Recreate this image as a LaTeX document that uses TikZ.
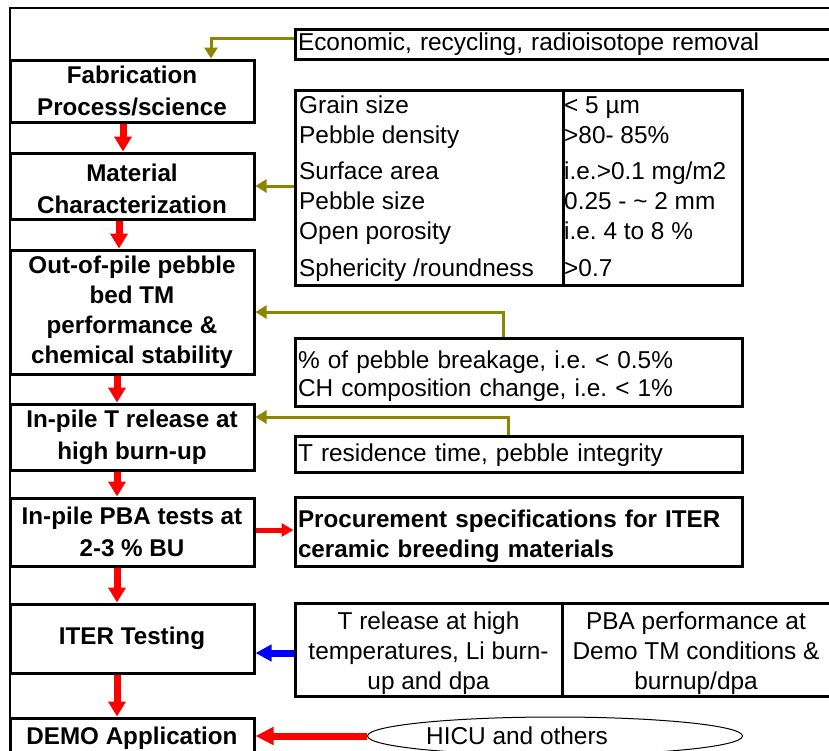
\documentclass[tikz,border=0pt]{standalone}
\usepackage{fontspec}
\setmainfont{Liberation Sans}
\usetikzlibrary{arrows.meta,shapes.geometric}
\frenchspacing
\tikzset{
  lbox/.style={draw, line width=3pt, minimum width=244pt, align=center, inner sep=0pt,
    font=\fontsize{24.2}{31.7}\selectfont\bfseries},
  rbox/.style={draw, line width=3pt, inner sep=0pt, inner xsep=3pt, align=left,
    font=\fontsize{24.4}{28.5}\selectfont},
  emptybox/.style={draw, line width=3pt, inner sep=0pt},
  txt/.style={inner sep=0pt, font=\fontsize{24.4}{30}\selectfont},
  redv/.style={draw=red, line width=7pt, -{Triangle[width=17pt,length=15pt]}},
  redh/.style={draw=red, line width=5pt, -{Triangle[width=13pt,length=12pt]}},
  redhicu/.style={draw=red, line width=7pt, -{Triangle[width=17pt,length=18pt]}},
  bluearr/.style={draw=blue, line width=7pt, -{Triangle[width=16pt,length=16pt]}},
  olivearr/.style={draw=olive, line width=3pt, -{Triangle[width=13pt,length=11pt]}},
}
\begin{document}
\frenchspacing
\begin{tikzpicture}[x=1pt,y=-1pt]
\useasboundingbox (0,0) rectangle (829,750);
\clip (0,0) rectangle (829,750);
\fill[white] (0,0) rectangle (829,750);
% outer frame
\draw[line width=2pt] (10,780) -- (10,8) -- (860,8);

% left column
\node[lbox, minimum height=62pt] (fab) at (132,91) {Fabrication\\Process/science};
\node[lbox, minimum height=66pt] (mat) at (132,186) {\rule{0pt}{23pt}Material\\Characterization};
\node[lbox, minimum height=124pt, font=\fontsize{24.2}{30}\selectfont\bfseries] (oop) at (132,312)
  {Out-of-pile pebble\\bed TM\\performance \&\\chemical stability};
\node[lbox, minimum height=66pt] (int) at (132,437) {In-pile T release at\\high burn-up};
\node[lbox, minimum height=68pt] (pba) at (132,532) {In-pile PBA tests at\\2-3 \% BU};
\node[lbox, minimum height=69pt] (iter) at (132,638.5) {ITER Testing};
\node[lbox, minimum height=39.5pt] (demo) at (132,737.75) {DEMO Application};

% right column
\node[rbox, minimum width=545pt, text width=539pt, minimum height=30pt] (econ) at (567.5,44)
  {Economic, recycling, radioisotope removal};

\node[emptybox, minimum width=447pt, minimum height=195pt] (tab) at (518.5,187.5) {};
\draw[line width=3pt] (tab.north -| 563,0) -- (tab.south -| 563,0);
\node[txt, anchor=base west] (g1) at (299,113.3) {Grain size};
\node[txt, anchor=base west] (g2) at (299,143.3) {Pebble density};
\node[txt, anchor=base west] (g3) at (299,179.3) {Surface area};
\node[txt, anchor=base west] (g4) at (299,209) {Pebble size};
\node[txt, anchor=base west] (g5) at (299,239) {Open porosity};
\node[txt, anchor=base west] (g6) at (299,276) {Sphericity /roundness};
\node[txt, anchor=base west] (v1) at (564,113.3) {< 5 µm};
\node[txt, anchor=base west] (v2) at (564,143.3) {>80- 85\%};
\node[txt, anchor=base west] (v3) at (564,179.3) {i.e.>0.1 mg/m2};
\node[txt, anchor=base west] (v4) at (564,209) {0.25 - \textasciitilde{} 2 mm};
\node[txt, anchor=base west] (v5) at (564,239) {i.e.\ 4 to 8 \%};
\node[txt, anchor=base west] (v6) at (564,276) {>0.7};

\node[rbox, minimum width=447pt, text width=441pt, minimum height=68pt] (brk) at (518.5,372)
  {\rule{0pt}{26pt}\% of pebble breakage, i.e.\ < 0.5\%\\CH composition change, i.e.\ < 1\%};
\node[rbox, minimum width=447pt, text width=441pt, minimum height=36pt] (tres) at (518.5,454)
  {\rule{0pt}{21pt}T residence time, pebble integrity};
\node[rbox, minimum width=447pt, text width=441pt, minimum height=69pt,
  font=\fontsize{24.2}{30.6}\selectfont\bfseries] (proc) at (518.5,531.5)
  {\rule{0pt}{27pt}Procurement specifications for ITER\\ceramic breeding materials};

\node[emptybox, minimum width=540pt, minimum height=93pt] (low) at (565,649.5) {};
\draw[line width=3pt] (low.north -| 562,0) -- (low.south -| 562,0);
\node[txt, align=center] (lowa) at (428.5,653.5) {T release at high\\temperatures, Li burn-\\up and dpa};
\node[txt, align=center] (lowb) at (696,653.5) {PBA performance at\\Demo TM conditions \&\\burnup/dpa};

\node[ellipse, draw, line width=1pt, minimum width=375pt, minimum height=38pt, inner sep=0pt] (hicu) at (555,736) {};
\node[txt, anchor=base west] (hicut) at (426,744) {HICU and others};

% red flow arrows
\draw[redv] ([xshift=-9pt]fab.south) -- ([xshift=-9pt]mat.north);
\draw[redv] ([xshift=-13pt]mat.south) -- ([xshift=-13pt]oop.north);
\draw[redv] ([xshift=-15pt]oop.south) -- ([xshift=-15pt]int.north);
\draw[redv] ([xshift=-15pt]int.south) -- ([xshift=-15pt]pba.north);
\draw[redv] ([xshift=-15pt]pba.south) -- ([xshift=-15pt]iter.north);
\draw[redv] ([xshift=-15pt]iter.south) -- ([xshift=-15pt]demo.north);

\draw[redh] (pba.east |- 0,530) -- (proc.west |- 0,530);
\draw[bluearr] (low.west |- 0,653) -- (iter.east |- 0,653);
\draw[redhicu] (hicu.west) -- (demo.east |- hicu.west);

% olive feedback arrows
\draw[olivearr] (econ.west |- 0,38) -| (fab.north -| 211,0);
\draw[olivearr] (tab.west |- mat.east) -- (mat.east);
\draw[olivearr] (brk.north -| 503,0) |- (oop.east);
\draw[olivearr] (tres.north -| 508,0) |- (int.east |- 0,417);
\end{tikzpicture}
\end{document}
